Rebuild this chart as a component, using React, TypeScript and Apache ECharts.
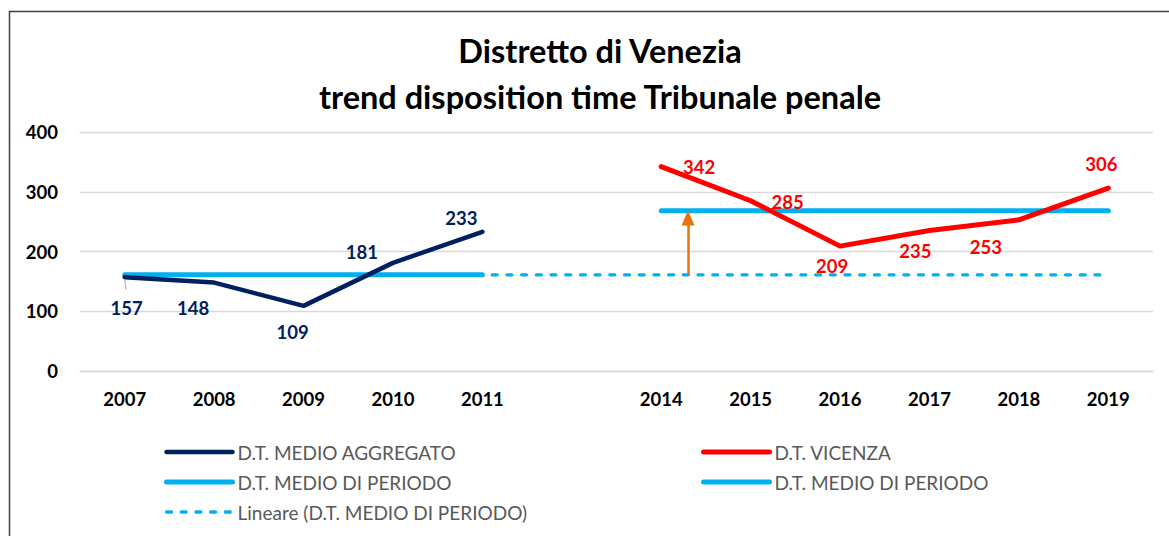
import React, { useEffect, useRef } from "react";
import * as echarts from "echarts";

const categories = ["2007", "2008", "2009", "2010", "2011", "", "2014", "2015", "2016", "2017", "2018", "2019"];
const aggregato = [157, 148, 109, 181, 233, null, null, null, null, null, null, null];
const vicenza = [null, null, null, null, null, null, 342, 285, 209, 235, 253, 306];
const medioPeriodo1 = [161, 161, 161, 161, 161, null, null, null, null, null, null, null];
const medioPeriodo2 = [null, null, null, null, null, null, 268, 268, 268, 268, 268, 268];
const lineare = [161, 161, 161, 161, 161, 161, 161, 161, 161, 161, 161, 161];
const yTicks = { min: 0, max: 400, interval: 100 };
const arrowX = 6.3;
const arrowFrom = 161;
const arrowTo = 256;

const aggregatoOffsets = [[2, 31], [-21, 25], [-11, 26], [-31, -11], [-21, -14]];
const vicenzaOffsets = [[38, 0], [37, 1], [-8, 20], [-14, 20], [-33, 27], [-7, -24]];

const NAVY = "#002060";
const RED = "#FF0000";
const BLUE = "#00B0F0";
const FONT = "Lato";

export default function App() {
  const ref = useRef<HTMLDivElement>(null);
  useEffect(() => {
    document.body.style.margin = "0";
    const chart = echarts.init(ref.current!, null, { renderer: "svg" });
    const labelBase = {
      show: true,
      position: "inside",
      fontFamily: FONT,
      fontWeight: "bold",
      fontSize: 18.5,
    };
    const aggData = aggregato.map((v, i) =>
      v == null ? null : { value: v, label: { offset: aggregatoOffsets[i] } }
    );
    const vicData = vicenza.map((v, i) =>
      v == null ? null : { value: v, label: { offset: vicenzaOffsets[i - 6] } }
    );
    const legendText = { fontFamily: FONT, fontSize: 19, color: "#595959", lineHeight: 20 };
    const legendCommon = {
      orient: "vertical",
      top: 437,
      itemWidth: 66,
      itemHeight: 14,
      itemGap: 10,
      selectedMode: false,
      textStyle: legendText,
      itemStyle: { opacity: 0 },
      lineStyle: { width: "inherit" },
    };
    const hiddenSymbol = { symbol: "circle", symbolSize: 0.01, showSymbol: true };
    chart.setOption({
      animation: false,
      title: {
        text: "Distretto di Venezia\ntrend disposition time Tribunale penale",
        left: 595,
        textAlign: "center",
        top: 22,
        textStyle: { fontFamily: FONT, fontWeight: "bold", fontSize: 32.5, lineHeight: 46, color: "#000" },
      },
      graphic: [
        {
          type: "rect",
          shape: { x: 9.5, y: 11.5, width: 1300, height: 700 },
          style: { fill: "none", stroke: "#404040", lineWidth: 1.5 },
          silent: true,
        },
      ],
      grid: { left: 80, right: 16, top: 132, bottom: 536 - 371 },
      xAxis: [
        {
          type: "category",
          data: categories,
          boundaryGap: true,
          axisLine: { show: true, lineStyle: { color: "#d9d9d9", width: 1.3 } },
          axisTick: { show: false },
          axisLabel: { fontFamily: FONT, fontWeight: "bold", fontSize: 18.5, color: "#000", margin: 18 },
        },
        { type: "value", min: -0.5, max: 11.5, show: false },
      ],
      yAxis: {
        type: "value",
        min: yTicks.min,
        max: yTicks.max,
        interval: yTicks.interval,
        axisLine: { show: false },
        axisTick: { show: false },
        splitLine: { lineStyle: { color: "#d9d9d9", width: 1.3 } },
        axisLabel: { fontFamily: FONT, fontWeight: "bold", fontSize: 18.5, color: "#000", margin: 22 },
      },
      legend: [
        {
          ...legendCommon,
          data: ["D.T. MEDIO AGGREGATO", "D.T. MEDIO DI PERIODO", "Lineare (D.T. MEDIO DI PERIODO)"],
          left: 159,
        },
        {
          ...legendCommon,
          data: ["D.T. VICENZA", "D.T. MEDIO DI PERIODO"],
          left: 696,
        },
      ],
      series: [
        {
          name: "Lineare (D.T. MEDIO DI PERIODO)",
          type: "line",
          data: lineare,
          symbol: "none",
          z: 1,
          lineStyle: { color: BLUE, width: 3.3, type: [5, 9.7], cap: "round" },
          itemStyle: { color: BLUE },
        },
        {
          name: "D.T. MEDIO DI PERIODO",
          type: "line",
          data: medioPeriodo1,
          symbol: "none",
          z: 2,
          lineStyle: { color: BLUE, width: 5, cap: "round" },
          itemStyle: { color: BLUE },
        },
        {
          name: "D.T. MEDIO DI PERIODO",
          type: "line",
          data: medioPeriodo2,
          symbol: "none",
          z: 2,
          lineStyle: { color: BLUE, width: 5, cap: "round" },
          itemStyle: { color: BLUE },
        },
        {
          name: "D.T. MEDIO AGGREGATO",
          type: "line",
          data: aggData,
          ...hiddenSymbol,
          z: 3,
          lineStyle: { color: NAVY, width: 4.5, cap: "round" },
          itemStyle: { color: NAVY },
          label: { ...labelBase, color: NAVY },
        },
        {
          name: "D.T. VICENZA",
          type: "line",
          data: vicData,
          ...hiddenSymbol,
          z: 3,
          lineStyle: { color: RED, width: 5, cap: "round" },
          itemStyle: { color: RED },
          label: { ...labelBase, color: RED },
        },
        {
          name: "arrow",
          type: "line",
          xAxisIndex: 1,
          data: [],
          symbol: "none",
          z: 4,
          markLine: {
            silent: true,
            label: { show: false },
            data: [
              [
                { coord: [arrowX, arrowFrom], symbol: "none" },
                { coord: [arrowX, arrowTo], symbol: "triangle", symbolSize: [13, 15] },
              ],
              [
                { coord: [0, 154], symbol: "none", lineStyle: { color: "#a6a6a6", width: 1, type: "solid" } },
                { coord: [0.015, 136], symbol: "none" },
              ],
            ],
            lineStyle: { color: "#E8730C", width: 2.5, type: "solid" },
          },
        },
      ],
    });
    return () => chart.dispose();
  }, []);
  return <div ref={ref} style={{ width: 1169, height: 536 }} />;
}
